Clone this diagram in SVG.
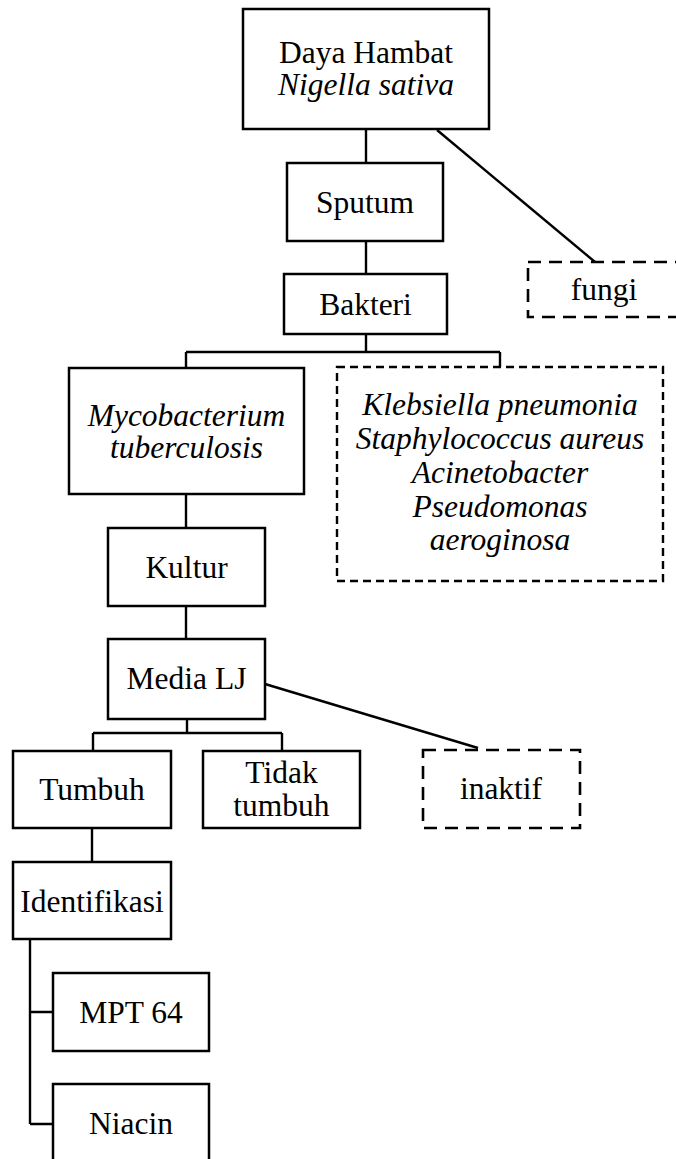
<svg xmlns="http://www.w3.org/2000/svg" width="676" height="1159" viewBox="0 0 676 1159">
<style>
.box{fill:#fff;stroke:#000;stroke-width:2.5}
.dash{fill:#fff;stroke:#000;stroke-width:2.6;stroke-dasharray:13 8}
.dash2{fill:#fff;stroke:#000;stroke-width:2.4;stroke-dasharray:8 5}
.ln{fill:none;stroke:#000;stroke-width:2.4}
text{font-family:"Liberation Serif","Times New Roman",serif;font-size:31.5px;fill:#000;text-anchor:middle}
.it{font-style:italic}
</style>
<rect width="676" height="1159" fill="#fff"/>
<g id="connectors">
<path class="ln" d="M366 129V163M366 241V274M366 334V352M186 352H500M186 352V368M500 352V367"/>
<path class="ln" d="M437 130L595 262"/>
<path class="ln" d="M186 494V528M186 606V639M187 719V733M93 733H282M93 733V751M282 733V751"/>
<path class="ln" d="M265 684L478 748"/>
<path class="ln" d="M92 828V862M30 939V1124M30 1012H53M30 1124H53"/>
</g>
<g id="n-daya"><rect class="box" x="243" y="9" width="246" height="120"/><text x="366" y="63">Daya Hambat</text><text x="366" y="95" class="it">Nigella sativa</text></g>
<g id="n-sputum"><rect class="box" x="287" y="163" width="156" height="78"/><text x="365" y="213">Sputum</text></g>
<g id="n-fungi"><rect class="dash" x="528" y="262" width="154" height="55"/><text x="604" y="300">fungi</text></g>
<g id="n-bakteri"><rect class="box" x="284" y="274" width="163" height="60"/><text x="365.5" y="315">Bakteri</text></g>
<g id="n-mtb"><rect class="box" x="69" y="368" width="235" height="126"/><text x="186.5" y="426" class="it">Mycobacterium</text><text x="186.5" y="458" class="it">tuberculosis</text></g>
<g id="n-others"><rect class="dash2" x="337" y="367" width="326" height="214"/>
<text x="500" y="415" class="it">Klebsiella pneumonia</text>
<text x="500" y="449" class="it">Staphylococcus aureus</text>
<text x="500" y="483" class="it">Acinetobacter</text>
<text x="500" y="517" class="it">Pseudomonas</text>
<text x="500" y="550" class="it">aeroginosa</text></g>
<g id="n-kultur"><rect class="box" x="108" y="528" width="157" height="78"/><text x="186.5" y="578">Kultur</text></g>
<g id="n-media"><rect class="box" x="108" y="639" width="157" height="80"/><text x="186.5" y="689">Media LJ</text></g>
<g id="n-tumbuh"><rect class="box" x="13" y="751" width="158" height="77"/><text x="92" y="800">Tumbuh</text></g>
<g id="n-tidak"><rect class="box" x="203" y="751" width="157" height="77"/><text x="281.5" y="783">Tidak</text><text x="281.5" y="816">tumbuh</text></g>
<g id="n-inaktif"><rect class="dash" x="423" y="750" width="157" height="78"/><text x="501" y="799">inaktif</text></g>
<g id="n-ident"><rect class="box" x="13" y="862" width="158" height="77"/><text x="92" y="912">Identifikasi</text></g>
<g id="n-mpt"><rect class="box" x="53" y="973" width="156" height="78"/><text x="131" y="1023">MPT 64</text></g>
<g id="n-niacin"><rect class="box" x="53" y="1084" width="156" height="78"/><text x="131" y="1134">Niacin</text></g>
</svg>
